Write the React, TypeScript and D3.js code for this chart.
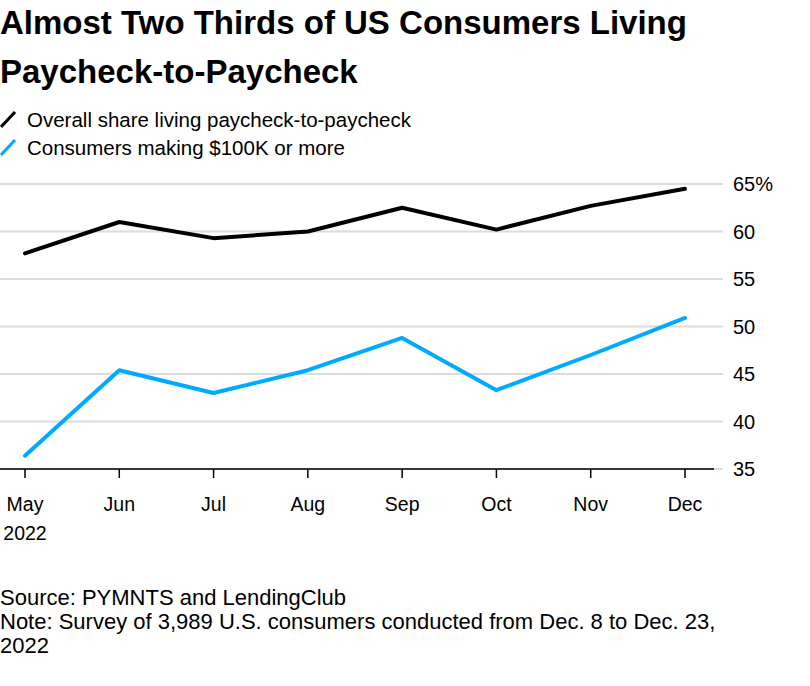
import React from "react";
import * as d3 from "d3";

const months = ["May", "Jun", "Jul", "Aug", "Sep", "Oct", "Nov", "Dec"];
const overallShare = [57.7, 61.0, 59.3, 60.0, 62.5, 60.2, 62.7, 64.5];
const highIncome = [36.4, 45.4, 43.0, 45.4, 48.8, 43.3, 47.0, 50.9];
const yTicks = [35, 40, 45, 50, 55, 60, 65];
const seriesNames = ["Overall share living paycheck-to-paycheck", "Consumers making $100K or more"];
const seriesColors = ["#000000", "#00aaff"];

const W = 810;
const H = 686;
const FONT = "'Liberation Sans', Arial, Helvetica, sans-serif";

export default function App() {
  const x = d3.scalePoint<string>().domain(months).range([25, 685]);
  const y = d3.scaleLinear().domain([35, 65]).range([469, 184]);
  const line = d3
    .line<number>()
    .x((_, i) => x(months[i]) as number)
    .y((d) => y(d));
  const series = [overallShare, highIncome];

  return (
    <svg
      width={W}
      height={H}
      style={{ position: "absolute", left: 0, top: 0, background: "#fff" }}
      fontFamily={FONT}
    >
      <text x={0} y={34} fontSize={33} fontWeight="bold" fill="#000">
        Almost Two Thirds of US Consumers Living
      </text>
      <text x={0} y={83} fontSize={33} fontWeight="bold" fill="#000">
        Paycheck-to-Paycheck
      </text>

      {seriesNames.map((name, i) => (
        <g key={name} transform={`translate(0, ${127 + i * 28})`}>
          <line x1={1} y1={0} x2={15} y2={-15} stroke={seriesColors[i]} strokeWidth={3} />
          <text x={27} y={0} fontSize={20.5} fill="#000">
            {name}
          </text>
        </g>
      ))}

      {yTicks.map((t) => (
        <g key={t}>
          <line x1={0} x2={723} y1={y(t)} y2={y(t)} stroke="#dcdcdc" strokeWidth={2} />
          <text x={733} y={y(t) + 7} fontSize={20} fill="#000">
            {t === 65 ? "65%" : t}
          </text>
        </g>
      ))}

      <line x1={0} x2={714} y1={y(35)} y2={y(35)} stroke="#000" strokeWidth={1.5} />
      {months.map((m) => (
        <g key={m}>
          <line x1={x(m)} x2={x(m)} y1={y(35)} y2={y(35) + 9} stroke="#000" strokeWidth={1.5} />
          <text x={x(m)} y={511} fontSize={19.5} textAnchor="middle" fill="#000">
            {m}
          </text>
        </g>
      ))}
      <text x={x("May")} y={540} fontSize={19.5} textAnchor="middle" fill="#000">
        2022
      </text>

      {series.map((s, i) => (
        <path
          key={i}
          d={line(s) as string}
          fill="none"
          stroke={seriesColors[i]}
          strokeWidth={4}
          strokeLinejoin="round"
          strokeLinecap="round"
        />
      ))}

      <text x={0} y={605} fontSize={22} fill="#000">Source: PYMNTS and LendingClub</text>
      <text x={0} y={629} fontSize={22} fill="#000">
        Note: Survey of 3,989 U.S. consumers conducted from Dec. 8 to Dec. 23,
      </text>
      <text x={0} y={653} fontSize={22} fill="#000">2022</text>
    </svg>
  );
}
